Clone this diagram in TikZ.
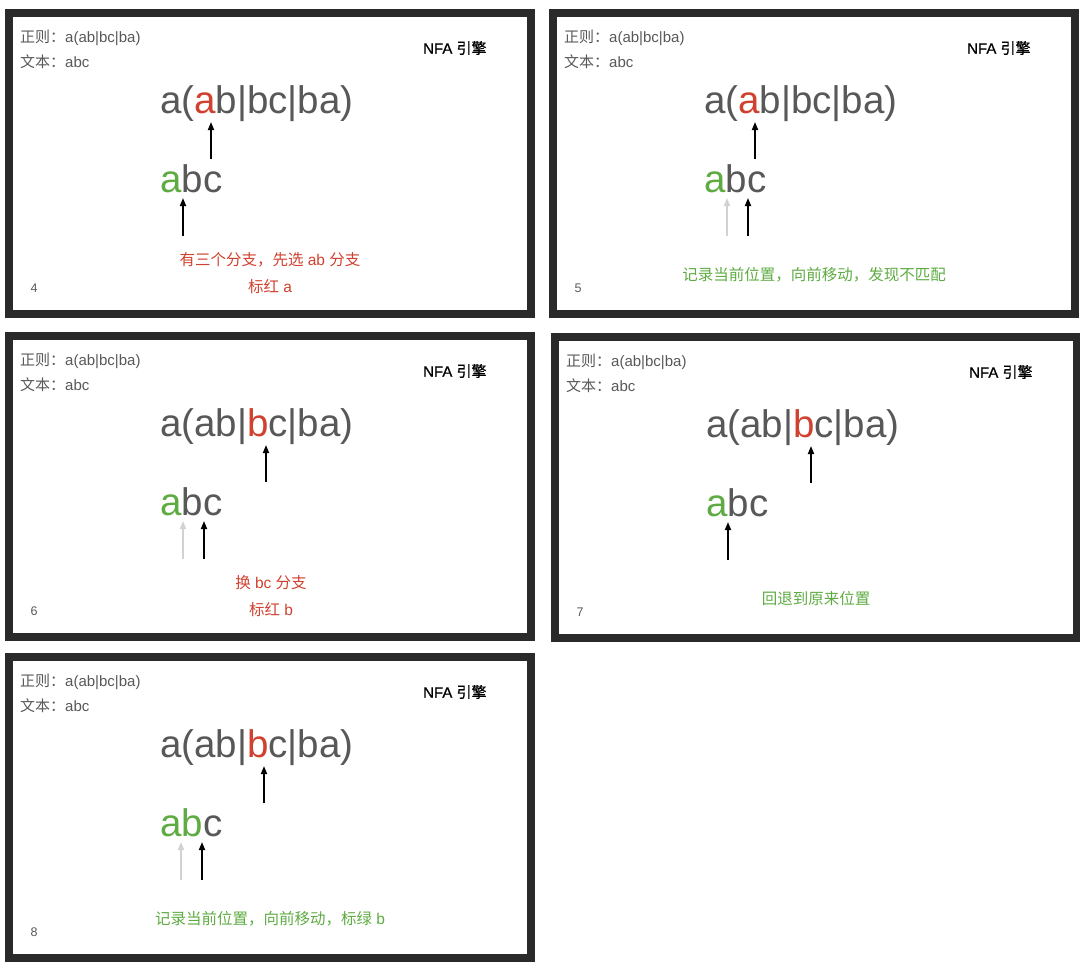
\documentclass[tikz,border=0pt]{standalone}
\usepackage{fontspec}
\setmainfont{Liberation Sans}
\newfontfamily\cjk{Noto Sans CJK SC}
\newfontfamily\cjkbold[FakeBold=0.8]{Noto Sans CJK SC}
\newfontfamily\latinbold[FakeBold=0.8]{Liberation Sans}
\usetikzlibrary{arrows.meta,positioning}
\definecolor{nfaFrame}{HTML}{2A2A2A}
\definecolor{nfaGray}{HTML}{585858}
\definecolor{nfaRed}{HTML}{D0412F}
\definecolor{nfaGreen}{HTML}{5EAB42}
\definecolor{nfaGhost}{HTML}{D2D2D2}
\tikzset{
  panelframe/.style={draw=nfaFrame,line width=8pt},
  headtext/.style={font=\fontsize{15}{18}\selectfont,text=nfaGray,anchor=west,inner sep=0pt},
  enginetext/.style={font=\fontsize{15}{18}\selectfont,text=black,anchor=west,inner sep=0pt},
  bigtext/.style={font=\fontsize{38.5}{44}\selectfont,text=nfaGray,anchor=base west,inner sep=0pt},
  pagenum/.style={font=\fontsize{12.5}{14}\selectfont,text=nfaGray,inner sep=0pt},
  captext/.style={font=\fontsize{15.5}{18}\selectfont,inner sep=0pt},
  pointer/.style={-{Triangle[length=8pt,width=6pt]},line width=1.7pt,black},
  ghostpointer/.style={pointer,nfaGhost},
}
% common parts of one step: frame, header, engine name, step number
\newcommand{\nfapanel}[2]{%
  \draw[panelframe] (4,4) rectangle (526,305);
  \node[headtext] (#1rule) at (15,29) {{\cjk 正则：}a(ab|bc|ba)};
  \node[headtext] (#1input) at (15,53) {{\cjk 文本：}abc};
  \node[enginetext] (#1engine) at (418,39) {{\latinbold NFA} {\cjkbold 引擎}};
  \node[pagenum] (#1num) at (29,279) {#2};
}

\begin{document}
\begin{tikzpicture}[x=1pt,y=-1pt]
  \useasboundingbox (0,0) rectangle (1080,977);

  % step 4
  \begin{scope}[shift={(5,9)}]
    \nfapanel{pa}{4}
    \node[bigtext] (paregex) at (155,104) {a(\textcolor{nfaRed}{a}b|bc|ba)};
    \node[bigtext] (patext) at (155,183) {\textcolor{nfaGreen}{a}bc};
    \coordinate (parA) at (206,150); \coordinate (parB) at (206,113);
    \coordinate (patA) at (178,227); \coordinate (patB) at (178,189);
    \draw[pointer] (parA) -- (parB);
    \draw[pointer] (patA) -- (patB);
    \node[captext,text=nfaRed] (pacap) at (265,251) {{\cjk 有三个分支，先选} ab {\cjk 分支}};
    \node[captext,text=nfaRed] (pacapb) at (265,278) {{\cjk 标红} a};
  \end{scope}

  % step 5
  \begin{scope}[shift={(549,9)}]
    \nfapanel{pb}{5}
    \node[bigtext] (pbregex) at (155,104) {a(\textcolor{nfaRed}{a}b|bc|ba)};
    \node[bigtext] (pbtext) at (155,183) {\textcolor{nfaGreen}{a}bc};
    \coordinate (pbrA) at (206,150); \coordinate (pbrB) at (206,113);
    \coordinate (pbgA) at (178,227); \coordinate (pbgB) at (178,189);
    \coordinate (pbtA) at (199,227); \coordinate (pbtB) at (199,189);
    \draw[pointer] (pbrA) -- (pbrB);
    \draw[ghostpointer] (pbgA) -- (pbgB);
    \draw[pointer] (pbtA) -- (pbtB);
    \node[captext,text=nfaGreen] (pbcap) at (265,266) {\cjk 记录当前位置，向前移动，发现不匹配};
  \end{scope}

  % step 6
  \begin{scope}[shift={(5,332)}]
    \nfapanel{pc}{6}
    \node[bigtext] (pcregex) at (155,104) {a(ab|\textcolor{nfaRed}{b}c|ba)};
    \node[bigtext] (pctext) at (155,183) {\textcolor{nfaGreen}{a}bc};
    \coordinate (pcrA) at (261,150); \coordinate (pcrB) at (261,113);
    \coordinate (pcgA) at (178,227); \coordinate (pcgB) at (178,189);
    \coordinate (pctA) at (199,227); \coordinate (pctB) at (199,189);
    \draw[pointer] (pcrA) -- (pcrB);
    \draw[ghostpointer] (pcgA) -- (pcgB);
    \draw[pointer] (pctA) -- (pctB);
    \node[captext,text=nfaRed] (pccap) at (266,251) {{\cjk 换} bc {\cjk 分支}};
    \node[captext,text=nfaRed] (pccapb) at (266,278) {{\cjk 标红} b};
  \end{scope}

  % step 7
  \begin{scope}[shift={(551,333)}]
    \nfapanel{pd}{7}
    \node[bigtext] (pdregex) at (155,104) {a(ab|\textcolor{nfaRed}{b}c|ba)};
    \node[bigtext] (pdtext) at (155,183) {\textcolor{nfaGreen}{a}bc};
    \coordinate (pdrA) at (260,150); \coordinate (pdrB) at (260,113);
    \coordinate (pdtA) at (177,227); \coordinate (pdtB) at (177,189);
    \draw[pointer] (pdrA) -- (pdrB);
    \draw[pointer] (pdtA) -- (pdtB);
    \node[captext,text=nfaGreen] (pdcap) at (265,266) {\cjk 回退到原来位置};
  \end{scope}

  % step 8
  \begin{scope}[shift={(5,653)}]
    \nfapanel{pe}{8}
    \node[bigtext] (peregex) at (155,104) {a(ab|\textcolor{nfaRed}{b}c|ba)};
    \node[bigtext] (petext) at (155,183) {\textcolor{nfaGreen}{ab}c};
    \coordinate (perA) at (259,150); \coordinate (perB) at (259,113);
    \coordinate (pegA) at (176,227); \coordinate (pegB) at (176,189);
    \coordinate (petA) at (197,227); \coordinate (petB) at (197,189);
    \draw[pointer] (perA) -- (perB);
    \draw[ghostpointer] (pegA) -- (pegB);
    \draw[pointer] (petA) -- (petB);
    \node[captext,text=nfaGreen] (pecap) at (265,266) {{\cjk 记录当前位置，向前移动，标绿} b};
  \end{scope}
\end{tikzpicture}
\end{document}
